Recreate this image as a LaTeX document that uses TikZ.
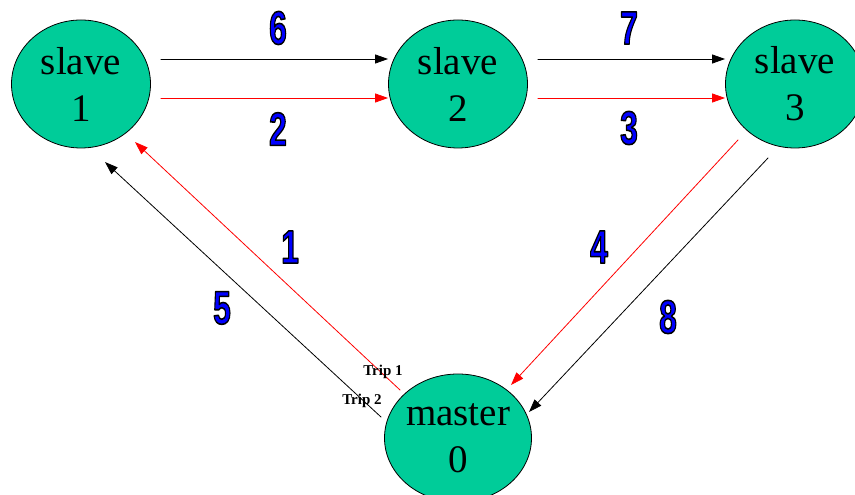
\documentclass[tikz,border=0pt]{standalone}
\usepackage{fontspec}
\setmainfont{Liberation Serif}
\setsansfont{Liberation Sans}
\usetikzlibrary{arrows.meta, shapes.geometric}
\definecolor{slavegreen}{RGB}{0,204,153}
% blue digits with a black outline (fill and stroke text)
\newcommand{\tripnum}[1]{\scalebox{0.68}[1]{\textcolor{blue}{\special{pdf:literal direct 2 Tr 1.6 w 0 0 0 RG}#1\special{pdf:literal direct 0 Tr}}}}

\tikzset{
    station/.style={ellipse, draw=black, line width=0.8pt, fill=slavegreen, minimum width=139pt, minimum height=128pt, inner sep=0pt, align=center, font=\fontsize{39}{47}\selectfont},
    blackway/.style={black, line width=0.8pt, -{Triangle[length=13pt,width=9pt]}},
    redway/.style={red, line width=0.8pt, -{Triangle[length=13pt,width=9pt]}},
    order/.style={font=\sffamily\bfseries\fontsize{47}{47}\selectfont, inner sep=0pt},
    trip/.style={font=\bfseries\fontsize{15}{15}\selectfont, inner sep=0pt}
}

\begin{document}
\begin{tikzpicture}[line cap=round,line join=round,x=1pt,y=1pt]
    \useasboundingbox (0,0) rectangle (855,495);

    % slaves and master
    \draw (81,411) node[station] (S1) {slave\\1};
    \draw (458,411) node[station] (S2) {slave\\2};
    \draw (795,411) node[station] (S3) {slave\\3};
    \draw (458,57) node[station] (M) {master\\0};

    % Edges along the top
    \draw[blackway] ([shift={(10,25)}]S1.east) -- ([yshift=25]S2.west);
    \draw[redway] ([shift={(10,-14)}]S1.east) -- ([yshift=-14]S2.west);
    \draw[blackway] ([shift={(10,25)}]S2.east) -- ([yshift=25]S3.west);
    \draw[redway] ([shift={(10,-14)}]S2.east) -- ([yshift=-14]S3.west);

    % Edges to and from the master
    \draw[redway] ([shift={(-58,48)}]M.center) -- ([shift={(54,-58)}]S1.center);
    \draw[blackway] ([shift={(-77,21)}]M.center) -- ([shift={(24,-78)}]S1.center);
    \draw[redway] ([shift={(-57,-56)}]S3.center) -- ([shift={(53,53)}]M.center);
    \draw[blackway] ([shift={(-27,-74)}]S3.center) -- ([shift={(71,26)}]M.center);

    % order of the messages
    \draw (278,467) node[order] (N6) {\tripnum{6}};
    \draw (278,366) node[order] (N2) {\tripnum{2}};
    \draw (629,467) node[order] (N7) {\tripnum{7}};
    \draw (629,367) node[order] (N3) {\tripnum{3}};
    \draw (290,248) node[order] (N1) {\tripnum{1}};
    \draw (222,187) node[order] (N5) {\tripnum{5}};
    \draw (599,248) node[order] (N4) {\tripnum{4}};
    \draw (668,178) node[order] (N8) {\tripnum{8}};

    \draw (383,123) node[trip] (T1) {Trip 1};
    \draw (362,94) node[trip] (T2) {Trip 2};
\end{tikzpicture}
\end{document}
